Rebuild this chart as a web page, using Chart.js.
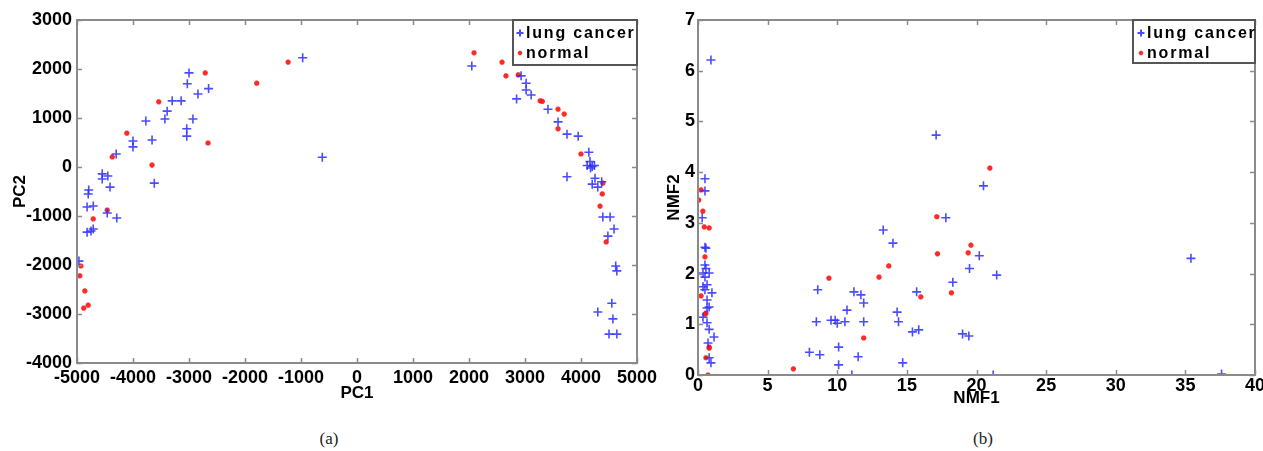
<!DOCTYPE html>
<html>
<head>
<meta charset="utf-8">
<script src="https://cdn.jsdelivr.net/npm/chart.js@4.4.1/dist/chart.umd.min.js"></script>
<style>
  html, body { margin:0; padding:0; background:#fff; width:1263px; height:451px; overflow:hidden; }
  #wrapA { position:absolute; left:0; top:0; width:662px; height:410px; }
  #wrapB { position:absolute; left:662px; top:0; width:601px; height:410px; }
  .cap { position:absolute; top:429px; font-family:"Liberation Serif","DejaVu Serif",serif; font-size:17px; color:#222; transform:translateX(-50%); }
</style>
</head>
<body>
<div id="wrapA"><canvas id="chartA" width="662" height="410"></canvas></div>
<div id="wrapB"><canvas id="chartB" width="601" height="410"></canvas></div>
<div class="cap" style="left:329px">(a)</div>
<div class="cap" style="left:983px">(b)</div>
<script>
// ---------- DATA ----------
const seriesNames = ["lung cancer", "normal"];

const pcaCancer = [
  [-970,2230],[-3000,1920],[-3030,1700],[-2650,1600],[-2840,1490],[-3300,1350],[-3140,1350],
  [-3390,1140],[-3430,980],[-3770,940],[-2930,980],[-3040,780],[-3040,630],[-4000,530],
  [-4000,410],[-3660,550],[-4300,265],[-3620,-330],[-620,200],[-4550,-140],[-4550,-245],
  [-4450,-185],[-4410,-410],[-4790,-470],[-4800,-550],[-4820,-815],[-4710,-795],[-4460,-940],
  [-4290,-1040],[-4820,-1330],[-4750,-1305],[-4710,-1265],[-4965,-1920],
  [2050,2060],[2930,1860],[3020,1710],[3020,1570],[3110,1470],[2850,1390],[3410,1180],
  [3590,920],[3750,670],[3950,630],[4140,300],[4160,110],[4110,30],[4200,10],[4240,30],
  [4170,-20],[3750,-200],[4250,-230],[4200,-350],[4300,-410],[4370,-300],[4390,-1020],
  [4520,-1020],[4590,-1265],[4480,-1410],[4620,-2020],[4640,-2120],[4550,-2780],[4300,-2960],
  [4570,-3100],[4500,-3410],[4640,-3410]
];
const pcaNormal = [
  [-1230,2140],[-1790,1710],[-2710,1920],[-3540,1330],[-4110,690],[-4370,205],[-3660,40],
  [-2660,490],[-4460,-880],[-4710,-1060],[-4930,-2020],[-4950,-2220],[-4860,-2530],
  [-4880,-2880],[-4800,-2820],
  [2090,2330],[2590,2140],[2660,1860],[2880,1880],[3270,1350],[3310,1340],[3590,1180],
  [3700,1080],[3590,780],[4000,265],[4390,-330],[4380,-550],[4340,-800],[4450,-1530]
];
const nmfCancer = [
  [0.93,6.21],[17.1,4.73],[0.5,3.87],[0.5,3.63],[0.3,3.1],[0.5,2.52],[0.57,2.5],[0.5,2.17],
  [0.57,2.1],[0.36,2.01],[0.8,2.01],[0.5,1.93],[0.36,1.74],[0.65,1.78],[0.5,1.68],[1.0,1.62],
  [0.65,1.48],[0.8,1.34],[0.65,1.32],[0.36,1.14],[0.65,1.03],[0.8,0.9],[1.15,0.75],[0.72,0.63],
  [0.8,0.34],[0.93,0.24],
  [8.6,1.68],[8.5,1.05],[8.0,0.45],[8.75,0.4],[9.55,1.08],[9.85,1.08],[10.0,1.02],[10.55,1.05],
  [10.7,1.28],[10.1,0.55],[10.1,0.2],[11.05,0],[11.2,1.64],[11.7,1.58],[11.9,1.42],[11.9,1.05],
  [11.5,0.36],[13.3,2.86],[14.0,2.6],[14.3,1.24],[14.4,1.05],[14.7,0.24],[15.4,0.85],[15.7,1.64],
  [15.85,0.89],[17.8,3.1],[18.3,1.83],[19.0,0.81],[19.45,0.77],[19.5,2.1],[20.2,2.35],[20.5,3.73],
  [21.45,1.97],[21.2,0],[35.4,2.3],[37.6,0.02]
];
const nmfNormal = [
  [0.22,3.65],[0.05,3.45],[0.35,3.23],[0.45,2.92],[0.8,2.9],[0.5,2.33],[0.22,1.56],[0.57,1.22],
  [0.5,1.2],[0.8,0.55],[0.8,0.53],[0.57,0.34],[0.72,0],[6.85,0.12],[9.4,1.91],[11.9,0.73],
  [13.0,1.93],[13.7,2.15],[16.0,1.54],[17.15,3.12],[17.2,2.39],[18.2,1.62],[19.4,2.41],
  [19.6,2.56],[20.96,4.08]
];
const pcaXTicks = {min:-5000, max:5000, step:1000};
const pcaYTicks = {min:-4000, max:3000, step:1000};
const nmfXTicks = {min:0, max:40, step:5};
const nmfYTicks = {min:0, max:7, step:1};

// ---------- STYLE ----------
const BLUE = 'rgba(45,45,255,0.85)';
const RED = 'rgba(255,20,20,0.9)';
const AXIS = '#8a8a8a';
const TICKFONT = {family:'"Liberation Sans", Arial, sans-serif', size:18, weight:'bold'};
const TITLEFONT = {family:'"Liberation Sans", Arial, sans-serif', size:17, weight:'bold'};

const toXY = arr => arr.map(p => ({x:p[0], y:p[1]}));

const framePlugin = {
  id: 'frameLegend',
  afterDraw(chart, args, opts) {
    const {ctx, chartArea:{left,right,top,bottom}, scales:{x,y}} = chart;
    ctx.save();
    ctx.strokeStyle = AXIS; ctx.lineWidth = 1.5;
    const tl = 5;
    ctx.beginPath();
    x.ticks.forEach(t => {
      const px = Math.round(x.getPixelForValue(t.value)) + 0.5;
      ctx.moveTo(px, bottom); ctx.lineTo(px, bottom - tl);
      ctx.moveTo(px, top); ctx.lineTo(px, top + tl);
    });
    y.ticks.forEach(t => {
      const py = Math.round(y.getPixelForValue(t.value)) + 0.5;
      ctx.moveTo(left, py); ctx.lineTo(left + tl, py);
      ctx.moveTo(right, py); ctx.lineTo(right - tl, py);
    });
    ctx.stroke();
    ctx.lineWidth = 2;
    ctx.strokeRect(left, top, right - left, bottom - top);
    // legend
    const w = opts.w, h = opts.h;
    const bx = right - w, by = top;
    ctx.fillStyle = '#fff';
    ctx.fillRect(bx, by, w, h);
    ctx.strokeStyle = '#555'; ctx.lineWidth = 2;
    ctx.strokeRect(bx, by, w, h);
    ctx.font = 'bold 16px "Liberation Sans", Arial, sans-serif';
    ctx.letterSpacing = opts.ls + 'px';
    ctx.textBaseline = 'middle';
    chart.data.datasets.forEach((ds, i) => {
      const cy = by + 13 + i * 20;
      ctx.fillStyle = '#000';
      ctx.fillText(ds.label, bx + opts.tx, cy + 1);
      ctx.strokeStyle = ds.borderColor;
      ctx.fillStyle = ds.borderColor;
      Chart.helpers.drawPoint(ctx, {pointStyle: ds.pointStyle, radius: i === 0 ? 3.5 : 2.2, borderWidth: i === 0 ? 1.4 : 1.8, rotation: 0}, bx + opts.mx, cy);
    });
    ctx.restore();
  }
};

function makeChart(id, cancer, normal, xt, yt, xTitle, yTitle, cfg) {
  return new Chart(document.getElementById(id), {
    type: 'scatter',
    data: {
      datasets: [
        {label: seriesNames[0], data: toXY(cancer), borderColor: BLUE, backgroundColor: BLUE,
         pointStyle: 'cross', pointRadius: 4.5, pointBorderWidth: 1.6, pointHoverRadius: 4.5},
        {label: seriesNames[1], data: toXY(normal), borderColor: RED, backgroundColor: RED,
         pointStyle: 'star', pointRadius: 2.6, pointBorderWidth: 1.9, pointHoverRadius: 2.6}
      ]
    },
    options: {
      responsive: false, animation: false, devicePixelRatio: 1,
      layout: {padding: {left: 0, top: 20, right: cfg.padRight, bottom: 0}},
      plugins: {legend: {display: false}, tooltip: {enabled: false},
                frameLegend: cfg.legend},
      scales: {
        x: {
          type: 'linear', min: xt.min, max: xt.max,
          grid: {display: false, drawTicks: false}, border: {display: false},
          ticks: {stepSize: xt.step, color: '#000', font: TICKFONT, padding: cfg.xPad, maxRotation: 0, autoSkip: false,
                  callback: v => String(v)},
          title: {display: true, text: xTitle, color: '#000', font: TITLEFONT, padding: {top: 0, bottom: cfg.xTitlePad}},
          afterFit: s => { s.height = cfg.xHeight; s.paddingLeft = 0; s.paddingRight = 0; }
        },
        y: {
          type: 'linear', min: yt.min, max: yt.max,
          grid: {display: false, drawTicks: false}, border: {display: false},
          ticks: {stepSize: yt.step, color: '#000', font: TICKFONT, padding: cfg.yPad, autoSkip: false,
                  callback: v => String(v)},
          title: {display: true, text: yTitle, color: '#000', font: TITLEFONT, padding: {top: cfg.yTitlePad, bottom: 0}},
          afterFit: s => { s.width = cfg.yWidth; s.paddingTop = 0; s.paddingBottom = 0; }
        }
      }
    },
    plugins: [framePlugin]
  });
}

makeChart('chartA', pcaCancer, pcaNormal, pcaXTicks, pcaYTicks, 'PC1', 'PC2', {
  padRight: 25, xHeight: 47, yWidth: 77, xPad: 4, yPad: 5, xTitlePad: 6, yTitlePad: 10,
  legend: {w: 124, h: 45, tx: 13, mx: 7, ls: 1.8}
});
makeChart('chartB', nmfCancer, nmfNormal, nmfXTicks, nmfYTicks, 'NMF1', 'NMF2', {
  padRight: 8, xHeight: 35, yWidth: 36, xPad: 0, yPad: 3, xTitlePad: 1, yTitlePad: 2,
  legend: {w: 122, h: 43, tx: 14, mx: 8, ls: 1.8}
});
</script>
</body>
</html>
